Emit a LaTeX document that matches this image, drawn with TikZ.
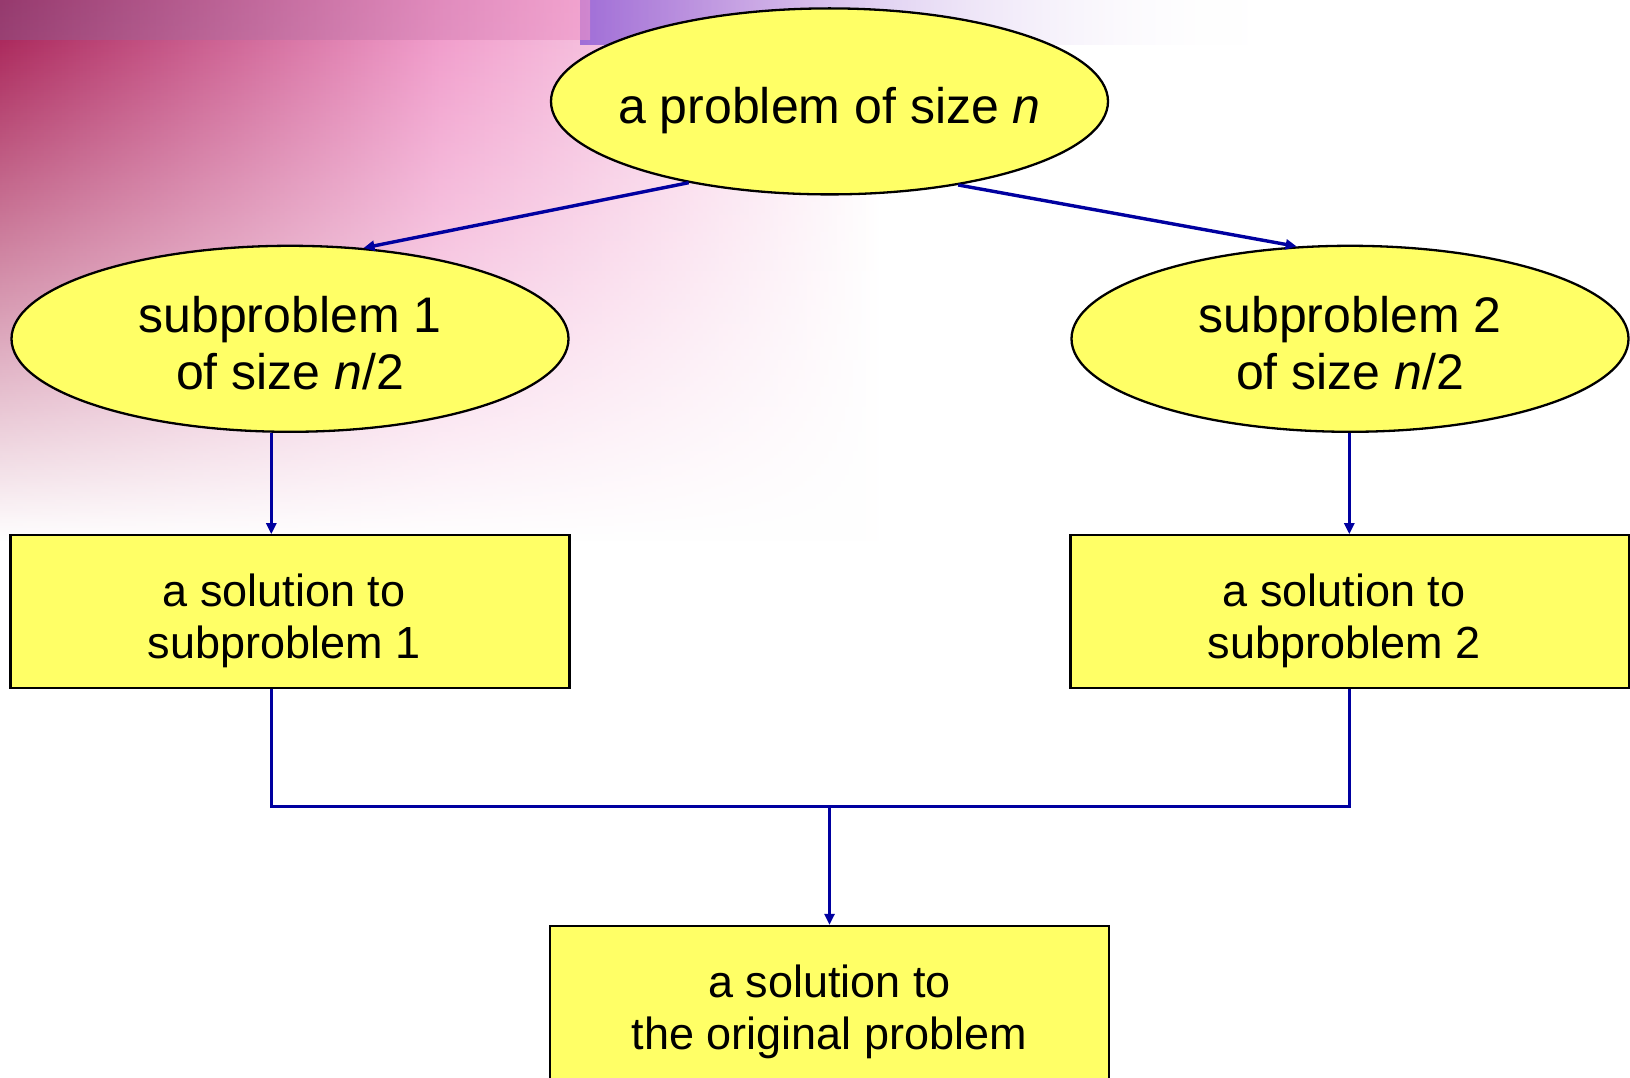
\documentclass[tikz,border=0pt]{standalone}
\usepackage{fontspec}
\setmainfont{Liberation Sans}
\usetikzlibrary{arrows.meta,shapes.geometric,fadings,calc}
\definecolor{boxyellow}{RGB}{255,255,102}
\definecolor{linkblue}{RGB}{0,0,160}
\definecolor{bgcrimson}{RGB}{165,25,80}
\definecolor{bgpink}{RGB}{240,150,200}
\definecolor{bgpurple}{RGB}{160,110,215}
\definecolor{bgmauve}{RGB}{140,80,130}
\newcommand{\zw}[1]{\raisebox{-17pt}[0pt][0pt]{\makebox[0pt][c]{\begin{tabular}{@{}c@{}}#1\end{tabular}}}}
\begin{document}
\begin{tikzpicture}[x=1pt,y=-1pt,
  ell/.style={ellipse,draw=black,line width=2.3pt,fill=boxyellow,minimum width=557pt,minimum height=186pt,inner sep=0pt,font=\fontsize{50}{57}\selectfont},
  sol/.style={rectangle,draw=black,line width=2.3pt,fill=boxyellow,minimum width=559pt,minimum height=153pt,inner sep=0pt,font=\fontsize{45}{52}\selectfont},
  lbl/.style={font=\fontsize{45}{52}\selectfont,align=center,inner sep=0pt},
  link/.style={draw=linkblue,line width=3.4pt},
  arr/.style={link,-{Triangle[length=11pt,width=10pt]}}]
\useasboundingbox (0,0) rectangle (1630,1078);
\clip (0,0) rectangle (1630,1078);
\fill[white] (0,0) rectangle (1630,1078);
% decorative background
\shade[left color=bgcrimson, right color=white, middle color=bgpink, path fading=south] (0,0) rectangle (880,540);
\shade[left color=bgpurple, right color=white, path fading=east] (580,0) rectangle (1250,45);
\shade[left color=bgmauve, right color=bgpink, opacity=0.6] (0,0) rectangle (590,40);
% nodes
\node[ell] (top) at (829.5,101.4) {\zw{a problem of size \textit{n}}};
\node[ell] (sub1) at (290,338.8) {\zw{subproblem 1\\of size \textit{n}/2}};
\node[ell] (sub2) at (1350,338.8) {\zw{subproblem 2\\of size \textit{n}/2}};
\node[sol] (box1) at (290,611.8) {};
\node[sol] (box2) at (1350,611.8) {};
\node[sol, minimum height=200pt] (bot) at (829.5,1026) {};
\node[lbl] (t1) at (284,621) {a solution to\\subproblem 1};
\node[lbl] (t2) at (1344,621) {a solution to\\subproblem 2};
\node[lbl] (t3) at (829.5,1012) {a solution to\\the original problem};
\coordinate (c1) at (271.3,0);
\coordinate (c2) at (1349.3,0);
\coordinate (join) at (829.5,806.7);
% connectors
\draw[arr] (top.210.7) -- (sub1.51.3);
\draw[arr] (top.327.2) -- (sub2.120.4);
\draw[arr] (c1 |- sub1.south) -- (c1 |- box1.north);
\draw[arr] (c2 |- sub2.south) -- (c2 |- box2.north);
\draw[link] (c1 |- box1.south) -- (c1 |- join) -- (c2 |- join) -- (c2 |- box2.south);
\draw[arr] (join) -- (bot.north);
\end{tikzpicture}
\end{document}
